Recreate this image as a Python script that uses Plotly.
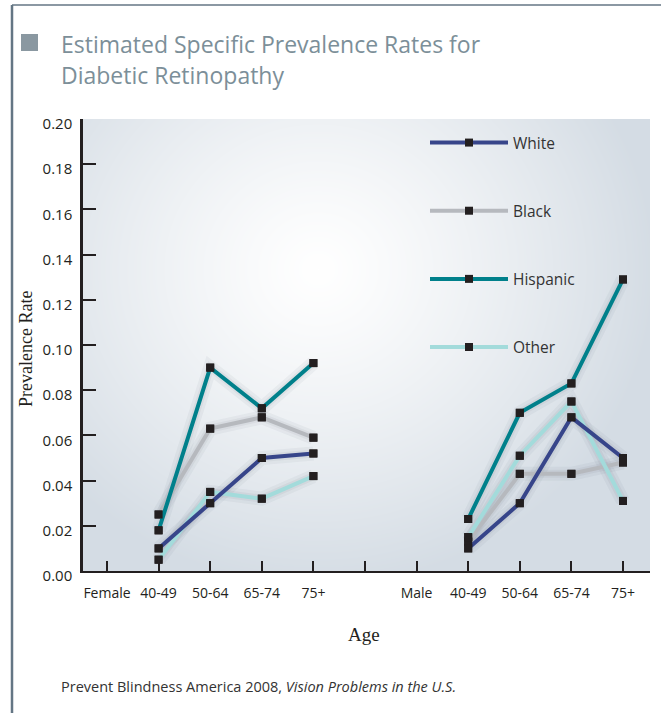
import base64
import struct
import zlib

import numpy as np
import plotly.graph_objects as go

# ---- data -----------------------------------------------------------------
tick_labels = ["Female", "40-49", "50-64", "65-74", "75+", "",
               "Male", "40-49", "50-64", "65-74", "75+"]
female_pos = [1, 2, 3, 4]
male_pos = [7, 8, 9, 10]

series_names = ["White", "Black", "Hispanic", "Other"]
female_white = [0.010, 0.030, 0.050, 0.052]
female_black = [0.025, 0.063, 0.068, 0.059]
female_hispanic = [0.018, 0.090, 0.072, 0.092]
female_other = [0.005, 0.035, 0.032, 0.042]
male_white = [0.010, 0.030, 0.068, 0.050]
male_black = [0.013, 0.043, 0.043, 0.048]
male_hispanic = [0.023, 0.070, 0.083, 0.129]
male_other = [0.015, 0.051, 0.075, 0.031]

y_ticks = [0.00, 0.02, 0.04, 0.06, 0.08, 0.10, 0.12, 0.14, 0.16, 0.18, 0.20]

# ---- style ----------------------------------------------------------------
W, H = 661, 713
ML, MR, MT, MB = 83, 11, 119, 142
PW, PH = W - ML - MR, H - MT - MB

colors = {"White": "#37458a", "Black": "#b6b9be",
          "Hispanic": "#00808b", "Other": "#a3dbdb"}
marker_color = "#231f20"
ink = "#231f20"
sans = "Open Sans, Noto Sans, sans-serif"
serif = "Liberation Serif, DejaVu Serif, serif"


def px_x(px):
    return (px - ML) / PW


def px_y(py):
    return (H - MB - py) / PH


def png_data_uri(rgb):
    h, w, _ = rgb.shape
    raw = b"".join(b"\x00" + rgb[i].tobytes() for i in range(h))

    def chunk(tag, data):
        body = tag + data
        return (struct.pack(">I", len(data)) + body
                + struct.pack(">I", zlib.crc32(body) & 0xFFFFFFFF))

    png = (b"\x89PNG\r\n\x1a\n"
           + chunk(b"IHDR", struct.pack(">IIBBBBB", w, h, 8, 2, 0, 0, 0))
           + chunk(b"IDAT", zlib.compress(raw, 9))
           + chunk(b"IEND", b""))
    return "data:image/png;base64," + base64.b64encode(png).decode()


# soft radial glow for the plotting area
yy, xx = np.mgrid[0:PH, 0:PW].astype(float)
t = np.sqrt(((xx - 235) / 340) ** 2 + ((yy - 150) / 320) ** 2)
f = np.clip(t, 0, 1) ** 1.25
edge = np.array([212, 220, 228], float)
white = np.array([255, 255, 255], float)
bg = (white[None, None, :] * (1 - f[..., None]) + edge[None, None, :] * f[..., None])
bg_uri = png_data_uri(np.clip(bg, 0, 255).astype(np.uint8))

# ---- figure ---------------------------------------------------------------
data = {
    "White": (female_white, male_white),
    "Black": (female_black, male_black),
    "Hispanic": (female_hispanic, male_hispanic),
    "Other": (female_other, male_other),
}

xs = female_pos + [None] + male_pos
fig = go.Figure()

draw_order = ["Black", "Other", "White", "Hispanic"]

# faint halo under each line
for name in draw_order:
    fem, mal = data[name]
    ys = fem + [None] + mal
    for wdt, alpha in ((14, 0.05), (8, 0.06)):
        fig.add_trace(go.Scatter(
            x=xs, y=ys, mode="lines", showlegend=False, hoverinfo="skip",
            line=dict(color=f"rgba(60,75,90,{alpha})", width=wdt),
        ))

for name in draw_order:
    fem, mal = data[name]
    ys = fem + [None] + mal
    fig.add_trace(go.Scatter(
        x=xs, y=ys, mode="lines+markers", name=name,
        legendgroup=name, legendrank=series_names.index(name) + 1,
        line=dict(color=colors[name], width=4),
        marker=dict(symbol="square", size=8, color=marker_color),
    ))

# markers kept above every line
for name in draw_order:
    fem, mal = data[name]
    ys = fem + [None] + mal
    fig.add_trace(go.Scatter(
        x=xs, y=ys, mode="markers", showlegend=False, hoverinfo="skip",
        marker=dict(symbol="square", size=8, color=marker_color),
    ))

x_lo = -(107 - ML) / 51.6
x_hi = (ML + PW - 107) / 51.6

fig.update_layout(
    width=W, height=H,
    margin=dict(l=ML, r=MR, t=MT, b=MB),
    paper_bgcolor="white",
    plot_bgcolor="rgba(0,0,0,0)",
    images=[dict(source=bg_uri, xref="paper", yref="paper", x=0, y=1,
                 sizex=1, sizey=1, sizing="stretch", layer="below")],
    xaxis=dict(
        range=[x_lo, x_hi], tickmode="array",
        tickvals=list(range(len(tick_labels))), ticktext=tick_labels,
        showgrid=False, zeroline=False, showline=True, linecolor=ink,
        linewidth=2, ticks="inside", ticklen=10, tickwidth=2, tickcolor=ink,
        tickfont=dict(family=sans, size=14, color=ink),
        ticklabelstandoff=8,
    ),
    yaxis=dict(
        range=[0, 0.2], tickmode="array", tickvals=y_ticks,
        ticktext=[f"{v:.2f}" for v in y_ticks],
        showgrid=False, zeroline=False, showline=True, linecolor=ink,
        linewidth=2.5, ticks="inside", ticklen=13, tickwidth=2, tickcolor=ink,
        tickfont=dict(family=sans, size=15, color=ink),
        ticklabelshift=5, ticklabelstandoff=5,
    ),
    legend=dict(
        x=px_x(425), y=px_y(126), xanchor="left", yanchor="top",
        bgcolor="rgba(0,0,0,0)", borderwidth=0,
        font=dict(family=sans, size=15.5, color="#333333"),
        tracegroupgap=45, itemwidth=78,
    ),
    showlegend=True,
)

# frame, title marker
fig.add_shape(type="line", xref="paper", yref="paper",
              x0=px_x(12), x1=px_x(12), y0=px_y(5), y1=px_y(H),
              line=dict(color="#647684", width=2.5))
fig.add_shape(type="line", xref="paper", yref="paper",
              x0=px_x(12), x1=px_x(W), y0=px_y(5), y1=px_y(5),
              line=dict(color="#647684", width=1.5))
fig.add_shape(type="rect", xref="paper", yref="paper",
              x0=px_x(21), x1=px_x(38), y0=px_y(51), y1=px_y(34),
              line=dict(width=0), fillcolor="#8a98a1")

title_color = "#7c8f99"
annos = [
    dict(text="Estimated Specific Prevalence Rates for", x=px_x(59), y=px_y(44),
         font=dict(family=sans, size=23, color=title_color)),
    dict(text="Diabetic Retinopathy", x=px_x(59), y=px_y(75),
         font=dict(family=sans, size=23, color=title_color)),
    dict(text="Prevent Blindness America 2008, <i>Vision Problems in the U.S.</i>",
         x=px_x(59), y=px_y(686), font=dict(family=sans, size=14.5, color="#333333")),
]
for a in annos:
    fig.add_annotation(xref="paper", yref="paper", xanchor="left", yanchor="middle",
                       showarrow=False, **a)

fig.add_annotation(text="Age", xref="paper", yref="paper", x=px_x(364), y=px_y(634),
                   xanchor="center", yanchor="middle", showarrow=False,
                   font=dict(family=serif, size=19, color="#231f20"))
fig.add_annotation(text="Prevalence Rate", xref="paper", yref="paper",
                   x=px_x(26), y=px_y(349), xanchor="center", yanchor="middle",
                   textangle=-90, showarrow=False,
                   font=dict(family=serif, size=18, color="#231f20"))

fig.write_html("out.html")
